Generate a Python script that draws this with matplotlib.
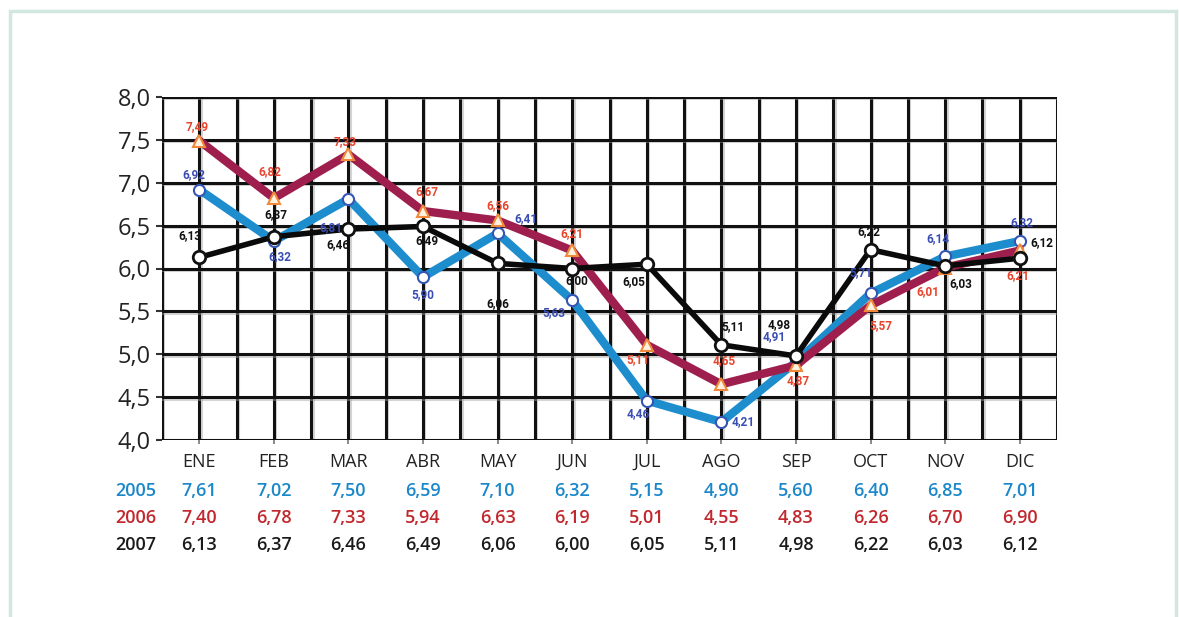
import matplotlib
matplotlib.use("Agg")
import matplotlib.pyplot as plt
import matplotlib.patheffects as pe
from matplotlib.patches import Rectangle
from matplotlib.transforms import blended_transform_factory

# ---------------- data ----------------
months = ["ENE", "FEB", "MAR", "ABR", "MAY", "JUN", "JUL", "AGO", "SEP", "OCT", "NOV", "DIC"]

# plotted series (values shown as point labels)
line_2005 = [6.92, 6.32, 6.81, 5.90, 6.41, 5.63, 4.46, 4.21, 4.91, 5.71, 6.14, 6.32]
line_2006 = [7.49, 6.82, 7.33, 6.67, 6.56, 6.21, 5.11, 4.65, 4.87, 5.57, 6.01, 6.21]
line_2007 = [6.13, 6.37, 6.46, 6.49, 6.06, 6.00, 6.05, 5.11, 4.98, 6.22, 6.03, 6.12]

# table under the chart
years = ["2005", "2006", "2007"]
table_2005 = [7.61, 7.02, 7.50, 6.59, 7.10, 6.32, 5.15, 4.90, 5.60, 6.40, 6.85, 7.01]
table_2006 = [7.40, 6.78, 7.33, 5.94, 6.63, 6.19, 5.01, 4.55, 4.83, 6.26, 6.70, 6.90]
table_2007 = [6.13, 6.37, 6.46, 6.49, 6.06, 6.00, 6.05, 5.11, 4.98, 6.22, 6.03, 6.12]

y_ticks = [4.0, 4.5, 5.0, 5.5, 6.0, 6.5, 7.0, 7.5, 8.0]

# ---------------- styling ----------------
W, H = 1179, 617
FONT = ["Open Sans", "DejaVu Sans"]
plt.rcParams["font.family"] = FONT

def fmt(v):
    return f"{v:.2f}".replace(".", ",")

# label offsets in pixels (dx, dy)
off_2005 = [(-5, 15), (6, -16), (-18, -29), (0, -18), (28, 15), (-18, -12),
            (-9, -13), (22, 0), (-22, 25), (-10, 21), (-7, 18), (2, 18)]
off_2006 = [(-2, 14), (-4, 27), (-3, 13), (4, 19), (0, 15), (0, 17),
            (-9, -15), (3, 24), (2, -15), (10, -20), (-17, -24), (-2, -25)]
off_2007 = [(-9, 22), (2, 22), (-11, -16), (4, -14), (0, -40), (5, -12),
            (-13, -17), (12, 18), (-17, 31), (-2, 18), (16, -18), (22, 16)]

fig = plt.figure(figsize=(W / 100, H / 100), dpi=100)
fig.patch.set_facecolor("white")

# outer light frame
frame = Rectangle((10 / W, -0.05), (1176 - 10) / W, (1 - 11 / H) + 0.05,
                  transform=fig.transFigure, fill=False,
                  edgecolor="#d3e7e1", linewidth=2.5, zorder=0)
fig.patches.append(frame)

left, right, top, bottom = 162, 1057, 97, 440
ax = fig.add_axes([left / W, 1 - bottom / H, (right - left) / W, (bottom - top) / H])

x = list(range(len(months)))

ax.set_xlim(-0.5, 11.5)
ax.set_ylim(4.0, 8.0)

# grid: every half step
shadow = [pe.SimpleLineShadow(offset=(1, -1), shadow_color="#a0a0a0", alpha=0.45), pe.Normal()]
for gx in [i * 0.5 - 0.5 for i in range(25)]:
    ax.axvline(gx, color="#111111", lw=2.2, zorder=1, path_effects=shadow)
for gy in y_ticks:
    ax.axhline(gy, color="#111111", lw=2.2, zorder=1, path_effects=shadow)

for s in ax.spines.values():
    s.set_visible(False)

ax.set_yticks(y_ticks)
ax.set_yticklabels([f"{v:.1f}".replace(".", ",") for v in y_ticks], fontsize=17, color="#222222")
ax.tick_params(axis="y", length=4, width=1.5, pad=4, color="#333333")
ax.set_xticks(x)
ax.set_xticklabels([])
ax.tick_params(axis="x", length=3, width=1.2, color="#777777")

# lines
c05, c06, c07 = "#1e8dcd", "#9e1f4e", "#0a0a0a"
ax.plot(x, line_2005, color=c05, lw=6, zorder=3, solid_joinstyle="miter",
        marker="o", ms=8, mfc="white", mec="#3555b5", mew=1.5)
ax.plot(x, line_2006, color=c06, lw=6, zorder=4, solid_joinstyle="miter",
        marker="^", ms=9, mfc="#fff2e0", mec="#f08a3a", mew=1.5)
ax.plot(x, line_2007, color=c07, lw=4, zorder=5,
        marker="o", ms=9, mfc="white", mec="#111111", mew=2)

lab05, lab06, lab07 = "#3a4db5", "#e8442c", "#111111"
for vals, offs, col in [(line_2005, off_2005, lab05), (line_2006, off_2006, lab06),
                        (line_2007, off_2007, lab07)]:
    for xi, v, (dx, dy) in zip(x, vals, offs):
        ax.annotate(fmt(v), (xi, v), xytext=(dx, dy), textcoords="offset pixels",
                    ha="center", va="center", fontsize=8.5, fontweight="bold",
                    color=col, zorder=6, family=["Roboto", "DejaVu Sans"])

# month labels and table
tr = blended_transform_factory(ax.transData, fig.transFigure)
for xi, m in zip(x, months):
    fig.text(xi, 1 - 462 / H, m, transform=tr, ha="center", va="center",
             fontsize=13, color="#222222")

rows = [(table_2005, "#1a87c9", 491), (table_2006, "#c1272d", 518), (table_2007, "#1a1a1a", 545)]
for (vals, col, ypx), yr in zip(rows, years):
    fig.text(136 / W, 1 - ypx / H, yr, ha="center", va="center", fontsize=13,
             fontweight="semibold", color=col)
    for xi, v in zip(x, vals):
        fig.text(xi, 1 - ypx / H, fmt(v), transform=tr, ha="center", va="center",
                 fontsize=13, fontweight="semibold", color=col)

fig.savefig("out.png", dpi=100, facecolor="white")
